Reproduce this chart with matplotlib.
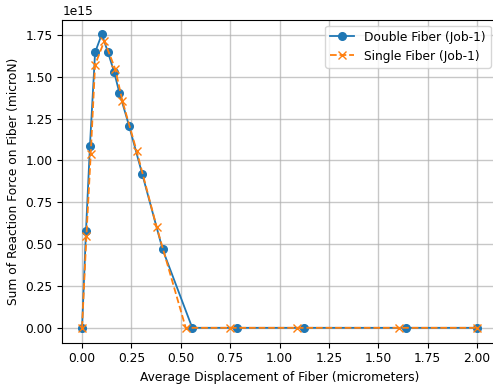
import matplotlib
matplotlib.use('Agg')
import matplotlib.pyplot as plt

# average displacement (micrometers) and summed reaction force (1e15 microN)
disp_double = [0.0, 0.02, 0.04, 0.066, 0.10, 0.13, 0.162, 0.189, 0.238, 0.305, 0.408, 0.558, 0.783, 1.126, 1.64, 2.0]
force_double = [0.0, 0.58, 1.088, 1.645, 1.754, 1.650, 1.53, 1.404, 1.207, 0.917, 0.468, 0.0, 0.0, 0.0, 0.0, 0.0]

disp_single = [0.0, 0.022, 0.044, 0.066, 0.113, 0.168, 0.204, 0.277, 0.378, 0.525, 0.749, 1.09, 1.605, 2.0]
force_single = [0.0, 0.547, 1.039, 1.571, 1.714, 1.546, 1.357, 1.054, 0.601, 0.0, 0.0, 0.0, 0.0, 0.0]

SCALE = 1e15

plt.rcParams['font.size'] = 8.8

fig = plt.figure(figsize=(4.93, 3.87), dpi=100)
ax = fig.add_axes([62.3 / 493, 44.5 / 387, 434.5 / 493, 323 / 387])

ax.plot(disp_double, [f * SCALE for f in force_double], 'o-', color='C0',
        lw=1.3, ms=5.5, label='Double Fiber (Job-1)')
ax.plot(disp_single, [f * SCALE for f in force_single], 'x--', color='C1',
        lw=1.3, ms=5.5, label='Single Fiber (Job-1)')

ax.set_xlabel('Average Displacement of Fiber (micrometers)')
ax.set_ylabel('Sum of Reaction Force on Fiber (microN)')
ax.set_xticks([0.0, 0.25, 0.5, 0.75, 1.0, 1.25, 1.5, 1.75, 2.0])
ax.grid(True, color='#b0b0b0', lw=1.0, alpha=0.7)
ax.legend(loc='upper right')

fig.savefig('out.png', dpi=100)
